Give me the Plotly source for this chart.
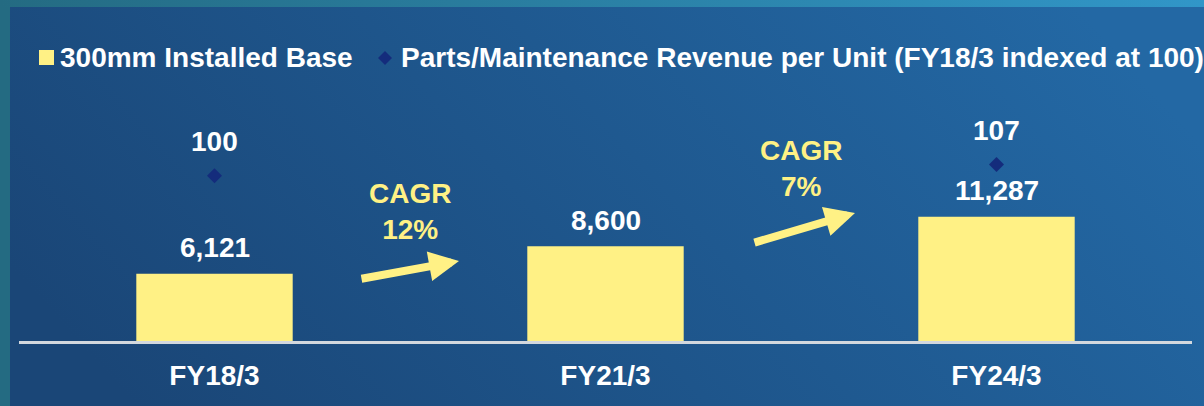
import base64
import plotly.graph_objects as go

# ---- data ----
categories = ["FY18/3", "FY21/3", "FY24/3"]
installed_base = [6121, 8600, 11287]
revenue_index = [100, None, 107]
cagr_labels = ["CAGR<br>12%", "CAGR<br>7%"]
legend_labels = ["300mm Installed Base",
                 "Parts/Maintenance Revenue per Unit (FY18/3 indexed at 100)"]

# ---- page geometry ----
W, H = 1204, 406
L, R, T, B = 19, 12, 100, 65
PW = W - L - R
PH = H - T - B

YELLOW = "#fff185"
NAVY = "#142c7c"
WHITE = "#ffffff"
FONT = "Liberation Sans, Arial, sans-serif"
FS = 28


def px2x(px):
    return (px - L) / PW


def py2y(py):
    return (H - B - py) / PH


# ---- gradient backdrop as an inline SVG ----
svg = f'''<svg xmlns="http://www.w3.org/2000/svg" width="{W}" height="{H}" viewBox="0 0 {W} {H}" preserveAspectRatio="none">
<defs>
<linearGradient id="panel" x1="0" y1="0.65" x2="1" y2="0.35">
<stop offset="0" stop-color="#1a4677"/>
<stop offset="1" stop-color="#2368a4"/>
</linearGradient>
<linearGradient id="band" x1="0" y1="0" x2="1" y2="0">
<stop offset="0" stop-color="#246b82"/>
<stop offset="1" stop-color="#3196c8"/>
</linearGradient>
</defs>
<rect width="{W}" height="{H}" fill="#246b82"/>
<rect width="{W}" height="7" fill="url(#band)"/>
<rect x="10" y="7" width="{W - 10}" height="{H - 7}" fill="url(#panel)"/>
</svg>'''
bg_src = "data:image/svg+xml;base64," + base64.b64encode(svg.encode()).decode()

fig = go.Figure()

fig.add_trace(go.Bar(
    x=categories, y=installed_base, name=legend_labels[0],
    marker=dict(color=YELLOW, line=dict(width=0)), width=0.4,
    hoverinfo="skip",
))
fig.add_trace(go.Scatter(
    x=categories, y=revenue_index, name=legend_labels[1], yaxis="y2",
    mode="markers", marker=dict(symbol="diamond", size=11.5, color=NAVY),
    hoverinfo="skip",
))

annotations = []
# value labels above bars
for cat, v in zip(categories, installed_base):
    annotations.append(dict(
        x=cat, y=v, xref="x", yref="y", text=f"<b>{v:,}</b>",
        showarrow=False, xanchor="center", yanchor="middle", yshift=26,
        font=dict(family=FONT, size=FS, color=WHITE),
    ))
# value labels above diamonds
for cat, v in zip(categories, revenue_index):
    if v is None:
        continue
    annotations.append(dict(
        x=cat, y=v, xref="x", yref="y2", text=f"<b>{v}</b>",
        showarrow=False, xanchor="center", yanchor="middle", yshift=34,
        font=dict(family=FONT, size=FS, color=WHITE),
    ))

# CAGR callouts between periods
for xc, yc, txt in [(0.5, py2y(211), cagr_labels[0]), (1.5, py2y(168), cagr_labels[1])]:
    annotations.append(dict(
        x=xc, y=yc, xref="x", yref="paper", text=f"<b>{txt}</b>",
        showarrow=False, align="center", xanchor="center", yanchor="middle",
        font=dict(family=FONT, size=FS, color=YELLOW),
    ))

# growth arrows
for tip, tail in [((459, 261), (360, 279)), ((855, 213), (753, 243))]:
    annotations.append(dict(
        x=(tip[0] - L) / PW * 3 - 0.5, y=py2y(tip[1]), xref="x", yref="paper",
        ax=tail[0] - tip[0], ay=tail[1] - tip[1], text="",
        showarrow=True, arrowhead=2, arrowsize=0.75, arrowwidth=8,
        arrowcolor=YELLOW, standoff=0,
    ))

# legend
annotations.append(dict(
    x=px2x(58), y=py2y(58), xref="paper", yref="paper", xanchor="left",
    yanchor="middle", text=f"<b>{legend_labels[0]}</b>", showarrow=False,
    font=dict(family=FONT, size=FS, color=WHITE),
))
annotations.append(dict(
    x=px2x(399), y=py2y(58), xref="paper", yref="paper", xanchor="left",
    yanchor="middle", text=f"<b>{legend_labels[1]}</b>", showarrow=False,
    font=dict(family=FONT, size=FS, color=WHITE),
))

shapes = [
    dict(type="rect", xref="paper", yref="paper",
         x0=px2x(39), x1=px2x(54), y0=py2y(65), y1=py2y(50),
         fillcolor=YELLOW, line=dict(width=0), layer="above"),
]
cx, cy, d = 385, 58, 7
shapes.append(dict(
    type="path", xref="paper", yref="paper",
    path=(f"M {px2x(cx)},{py2y(cy - d)} L {px2x(cx + d)},{py2y(cy)} "
          f"L {px2x(cx)},{py2y(cy + d)} L {px2x(cx - d)},{py2y(cy)} Z"),
    fillcolor=NAVY, line=dict(width=0), layer="above",
))

fig.update_layout(
    width=W, height=H,
    margin=dict(l=L, r=R, t=T, b=B, pad=0),
    paper_bgcolor="#1d4f84", plot_bgcolor="rgba(0,0,0,0)",
    showlegend=False, bargap=0.6,
    font=dict(family=FONT, color=WHITE),
    xaxis=dict(
        type="category", range=[-0.5, 2.5], showgrid=False, zeroline=False,
        showline=True, linecolor="#d3d8de", linewidth=3, ticks="",
        tickfont=dict(family=FONT, size=FS, color=WHITE, weight="bold"),
        ticklabelstandoff=7, fixedrange=True,
    ),
    yaxis=dict(range=[0, 21900], visible=False, fixedrange=True),
    yaxis2=dict(range=[-2.4, 147], overlaying="y", side="right",
                visible=False, fixedrange=True),
    annotations=annotations,
    shapes=shapes,
    images=[dict(
        source=bg_src, xref="paper", yref="paper",
        x=-L / PW, y=1 + T / PH, sizex=W / PW, sizey=H / PH,
        xanchor="left", yanchor="top", sizing="stretch", layer="below",
    )],
)

fig.write_html("out.html")
